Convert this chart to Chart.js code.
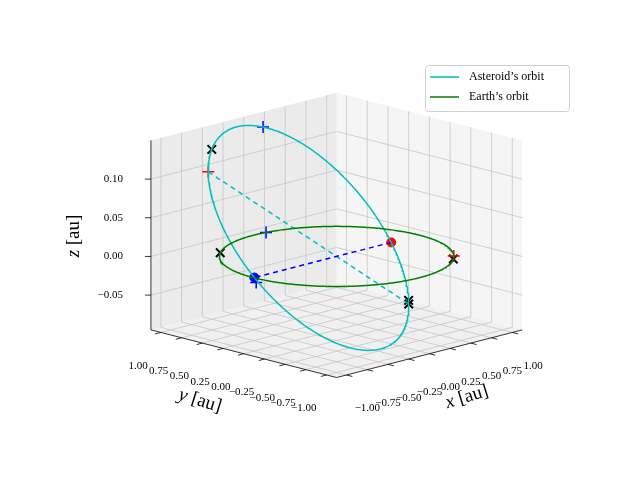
<!DOCTYPE html>
<html>
<head>
<meta charset="utf-8">
<script src="https://cdn.jsdelivr.net/npm/chart.js@4"></script>
<style>body{margin:0;background:#fff}</style>
</head>
<body>
<canvas id="c" width="640" height="480"></canvas>
<script>
// axis ticks
const xyTicks = [-1, -0.75, -0.5, -0.25, 0, 0.25, 0.5, 0.75, 1];
const xyTickLabels = ['\u22121.00', '\u22120.75', '\u22120.50', '\u22120.25', '0.00', '0.25', '0.50', '0.75', '1.00'];
const zTicks = [-0.05, 0, 0.05, 0.10];
const zTickLabels = ['\u22120.05', '0.00', '0.05', '0.10'];
const xyLim = [-1.12, 1.12];
const zLim = [-0.095, 0.15];

// orbital elements: semi-major axis (au), eccentricity, inclination, node, perihelion arg (deg)
const earthOrbit = [1.0, 0.0, 0, 0, 0];
const asteroidOrbit = [0.86, 0.28, 8.3, 0, -44];

// true anomalies (deg) of marked asteroid positions
const astNodes = [44, 224];          // red dot, blue dot (line of nodes)
const astApsides = [180, 0];         // ends of the apsidal line
const astRedPlus = [180];
const astBluePlus = [130];
const astCross = [168, 0, 3];
// Earth positions (deg) and free points [x, y, z]
const earthCross = [128, -50];
const earthRedPlus = [-44];
const earthBluePlus = [82];
const freeBluePlus = [[-1.1, -0.13, 0]];

const O = { u: 337, v: 257 }, ka = 85, kb = 22, kz = 800;
function proj(p) {
    return { x: O.u + ka * (p[0] - p[1]), y: O.v - kb * (p[0] + p[1]) - kz * p[2] };
}

function orbitPos(el, nuDeg) {
    const [a, e, inc, node, peri] = el;
    const d = Math.PI / 180, nu = nuDeg * d;
    const r = a * (1 - e * e) / (1 + e * Math.cos(nu));
    const u = peri * d + nu, i = inc * d, W = node * d;
    const xp = r * Math.cos(u), yp = r * Math.sin(u);
    return [
        xp * Math.cos(W) - yp * Math.cos(i) * Math.sin(W),
        xp * Math.sin(W) + yp * Math.cos(i) * Math.cos(W),
        yp * Math.sin(i)
    ];
}

const steps = 360;
const fullTurn = Array.from({ length: steps + 1 }, (_, k) => k * 360 / steps);
const ast = list => list.map(n => orbitPos(asteroidOrbit, n));
const earth = list => list.map(n => orbitPos(earthOrbit, n));

const line = (pts, color, dash) => ({
    data: pts.map(proj), borderColor: color, borderWidth: 1.5, showLine: true, pointRadius: 0,
    borderDash: dash || [], clip: false, tension: 0
});
const marks = (pts, color, style, r, w) => ({
    data: pts.map(proj), showLine: false, pointStyle: style, pointRadius: r,
    borderColor: color, backgroundColor: color, borderWidth: w, clip: false
});

const font = '"Liberation Serif", "DejaVu Serif", serif';

const axesPlugin = {
    id: 'axes3d',
    beforeDatasetsDraw(chart) {
        const ctx = chart.ctx, sx = chart.scales.x, sy = chart.scales.y;
        const P = (x, y, z) => { const q = proj([x, y, z]); return [sx.getPixelForValue(q.x), sy.getPixelForValue(q.y)]; };
        const [lo, hi] = xyLim, [zl, zh] = zLim;
        const poly = (pts, fill) => {
            ctx.beginPath();
            pts.forEach((p, i) => i ? ctx.lineTo(p[0], p[1]) : ctx.moveTo(p[0], p[1]));
            ctx.closePath(); ctx.fillStyle = fill; ctx.fill();
        };
        const seg = (a, b, color, w) => {
            ctx.beginPath(); ctx.moveTo(a[0], a[1]); ctx.lineTo(b[0], b[1]);
            ctx.strokeStyle = color; ctx.lineWidth = w; ctx.stroke();
        };
        ctx.save();
        // panes
        poly([P(hi, lo, zl), P(hi, hi, zl), P(hi, hi, zh), P(hi, lo, zh)], '#f5f5f5');
        poly([P(lo, hi, zl), P(hi, hi, zl), P(hi, hi, zh), P(lo, hi, zh)], '#ebebeb');
        poly([P(lo, lo, zl), P(hi, lo, zl), P(hi, hi, zl), P(lo, hi, zl)], '#f0f0f0');
        const g = '#c6c6c6';
        xyTicks.forEach(t => {
            seg(P(t, lo, zl), P(t, hi, zl), g, 0.8);
            seg(P(t, hi, zl), P(t, hi, zh), g, 0.8);
            seg(P(lo, t, zl), P(hi, t, zl), g, 0.8);
            seg(P(hi, t, zl), P(hi, t, zh), g, 0.8);
        });
        zTicks.forEach(t => {
            seg(P(lo, hi, t), P(hi, hi, t), g, 0.8);
            seg(P(hi, lo, t), P(hi, hi, t), g, 0.8);
        });
        // axis lines
        seg(P(lo, lo, zl), P(hi, lo, zl), '#000', 0.8);
        seg(P(lo, lo, zl), P(lo, hi, zl), '#000', 0.8);
        seg(P(lo, hi, zl), P(lo, hi, zh), '#000', 0.8);
        ctx.fillStyle = '#000';
        ctx.font = '11px ' + font;
        ctx.textBaseline = 'middle';
        ctx.textAlign = 'center';
        xyTicks.forEach((t, i) => {
            seg(P(t, lo, zl), P(t, lo - 0.07, zl), '#000', 0.8);
            const q = P(t, lo - 0.3, zl);
            ctx.fillText(xyTickLabels[i], q[0] - 4, q[1] + 27);
            seg(P(lo, t, zl), P(lo - 0.07, t, zl), '#000', 0.8);
            const r = P(lo - 0.3, t, zl);
            ctx.fillText(xyTickLabels[i], r[0] + 2, r[1] + 27);
        });
        ctx.textAlign = 'right';
        zTicks.forEach((t, i) => {
            const q = P(lo, hi, t);
            seg(q, [q[0] - 6, q[1]], '#000', 0.8);
            ctx.fillText(zTickLabels[i], q[0] - 28, q[1]);
        });
        // axis labels
        const lab = (txt, x, y, ang) => {
            ctx.save(); ctx.translate(x, y); ctx.rotate(ang);
            ctx.textAlign = 'left';
            ctx.font = 'italic 19px ' + font; const w1 = ctx.measureText(txt[0]).width;
            ctx.font = '19px ' + font; const w2 = ctx.measureText(txt[1]).width;
            const x0 = -(w1 + w2) / 2;
            ctx.font = 'italic 19px ' + font; ctx.fillText(txt[0], x0, 0);
            ctx.font = '19px ' + font; ctx.fillText(txt[1], x0 + w1, 0);
            ctx.restore();
        };
        lab(['x', ' [au]'], 467, 397, -0.3);
        lab(['y', ' [au]'], 200, 401, 0.3);
        lab(['z', ' [au]'], 74, 236, -Math.PI / 2);
        ctx.restore();
    },
    afterDraw(chart) {
        const ctx = chart.ctx;
        ctx.save();
        ctx.fillStyle = 'rgba(255,255,255,0.85)';
        ctx.strokeStyle = '#d0d0d0';
        ctx.lineWidth = 1;
        ctx.beginPath(); ctx.roundRect(425.5, 65.5, 144, 46, 3); ctx.fill(); ctx.stroke();
        const items = [['Asteroid\u2019s orbit', '#00bfbf'], ['Earth\u2019s orbit', '#008000']];
        ctx.font = '12px ' + font; ctx.textBaseline = 'middle'; ctx.textAlign = 'left';
        items.forEach(([t, c], i) => {
            const y = 77 + i * 20;
            ctx.beginPath(); ctx.moveTo(430, y); ctx.lineTo(459, y);
            ctx.strokeStyle = c; ctx.lineWidth = 1.5; ctx.stroke();
            ctx.fillStyle = '#000'; ctx.fillText(t, 469, y);
        });
        ctx.restore();
    }
};

new Chart(document.getElementById('c'), {
    type: 'scatter',
    data: {
        datasets: [
            line(earth(fullTurn), '#008000'),
            line(ast(fullTurn), '#00bfbf'),
            line(ast(astNodes), '#0000ff', [5, 4]),
            line(ast(astApsides), '#00bfbf', [5, 4]),
            marks(ast([astNodes[0]]), '#ff0000', 'circle', 4.5, 1),
            marks(ast([astNodes[1]]), '#0000ff', 'circle', 4.5, 1),
            marks(ast(astRedPlus).concat(earth(earthRedPlus)), '#ff0000', 'cross', 6, 1.5),
            marks(ast(astBluePlus).concat(earth(earthBluePlus), freeBluePlus), '#0000ff', 'cross', 6, 1.5),
            marks(ast(astCross).concat(earth(earthCross)), '#000000', 'crossRot', 6, 2)
        ]
    },
    options: {
        responsive: false,
        animation: false,
        devicePixelRatio: 1,
        layout: { padding: 0 },
        plugins: { legend: { display: false }, tooltip: { enabled: false } },
        scales: {
            x: { type: 'linear', min: 0, max: 640, display: false },
            y: { type: 'linear', min: 0, max: 480, reverse: true, display: false }
        }
    },
    plugins: [axesPlugin]
});
</script>
</body>
</html>
